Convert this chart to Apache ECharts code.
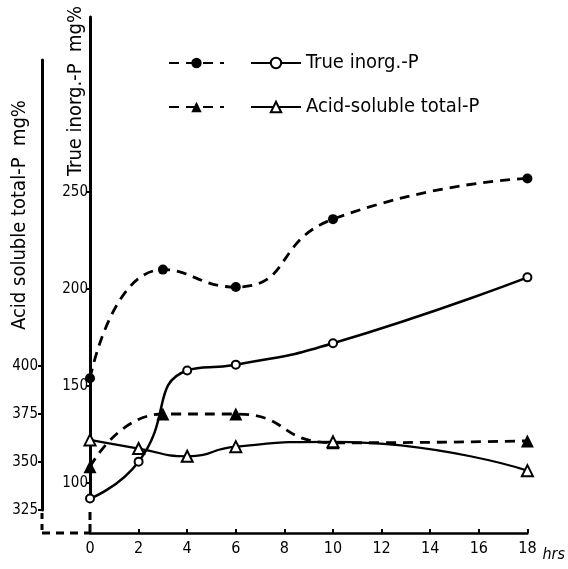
<!DOCTYPE html>
<html>
<head>
<meta charset="utf-8">
<script src="https://cdn.jsdelivr.net/npm/echarts@6/dist/echarts.min.js"></script>
<style>html,body{margin:0;padding:0;background:#fff;}#c{width:568px;height:569px;}</style>
</head>
<body>
<div id="c"></div>
<script>
// ---- data ----
const xTicks = [0, 2, 4, 6, 8, 10, 12, 14, 16, 18];
const inorgTicks = [100, 150, 200, 250];
const acidTicks = [325, 350, 375, 400];

const inorgDashedX = [0, 3, 6, 10, 18];
const inorgDashedY = [154, 210, 201, 236, 257];
const inorgSolidX = [0, 2, 4, 6, 10, 18];
const inorgSolidY = [92, 111, 158, 161, 172, 206];

const acidDashedX = [0, 3, 6, 10, 18];
const acidDashedY = [347.5, 375, 375, 360, 361];
const acidSolidX = [0, 2, 4, 6, 10, 18];
const acidSolidY = [361.5, 357, 353, 358, 360.5, 345.5];

const seriesNames = ['True inorg.-P', 'Acid-soluble total-P'];

// ---- layout / scales ----
const F = '"Liberation Sans Narrow","DejaVu Sans Condensed","DejaVu Sans",sans-serif';
const H = 569;
const mainTop = 17, mainBottomPx = 533;
const inorgPx = 1.94, acidPx = 1.92;           // px per unit
const inorgRef = {v: 100, y: 483};             // value at pixel row
const acidRef = {v: 325, y: 510};
const valAt = (ref, px, y) => ref.v + (ref.y - y) / px;

const inorgMin = valAt(inorgRef, inorgPx, mainBottomPx);
const inorgMax = valAt(inorgRef, inorgPx, mainTop);
const acidMin = valAt(acidRef, acidPx, mainBottomPx);
const acidMax = valAt(acidRef, acidPx, mainTop);

const inorgAxisTop = 17, inorgAxisBottom = 500;
const acidAxisTop = 60, acidAxisBottom = 510;

const zip = (xs, ys) => xs.map((x, i) => [x, ys[i]]);
const black = '#000';
const SMOOTH = 0.55;

const chart = echarts.init(document.getElementById('c'));

const visAxisCommon = {
  type: 'value',
  splitLine: {show: false},
  axisLine: {show: true, lineStyle: {color: black, width: 3}},
  axisTick: {show: true, inside: false, length: 4, lineStyle: {color: black, width: 2}},
  axisLabel: {color: black, fontSize: 15, fontFamily: F, margin: 3}
};

const option = {
  animation: false,
  backgroundColor: '#fff',
  grid: [
    {left: 90, right: 38, top: mainTop, bottom: H - mainBottomPx},
    {left: 42, width: 1, top: acidAxisTop, bottom: H - acidAxisBottom},
    {left: 90, width: 1, top: inorgAxisTop, bottom: H - inorgAxisBottom}
  ],
  legend: [
    {
      left: 163, top: 47, orient: 'vertical', itemWidth: 55, itemHeight: 13, itemGap: 22,
      data: ['True inorg.-P ', 'Acid-soluble total-P '],
      formatter: () => ' ',
      textStyle: {fontSize: 20, lineHeight: 22, color: black, fontFamily: F},
      selectedMode: false
    },
    {
      left: 245, top: 47, orient: 'vertical', itemWidth: 50, itemHeight: 13, itemGap: 22,
      data: seriesNames,
      textStyle: {fontSize: 20, lineHeight: 22, color: black, fontFamily: F},
      selectedMode: false
    }
  ],
  xAxis: [
    {
      gridIndex: 0, type: 'value', min: 0, max: 18, interval: 2,
      splitLine: {show: false},
      axisLine: {lineStyle: {color: black, width: 2.5}},
      axisTick: {inside: true, length: 4, lineStyle: {color: black, width: 2}},
      axisLabel: {color: black, fontSize: 16, fontFamily: F, margin: 8},
      name: 'hrs', nameLocation: 'end', nameGap: 10,
      nameTextStyle: {color: black, fontSize: 16, fontStyle: 'italic', fontFamily: F,
                      verticalAlign: 'top', padding: [14, 0, 0, 0]}
    },
    {gridIndex: 1, type: 'value', min: 0, max: 1, show: false},
    {gridIndex: 2, type: 'value', min: 0, max: 1, show: false}
  ],
  yAxis: [
    {gridIndex: 0, type: 'value', min: inorgMin, max: inorgMax, show: false},
    {gridIndex: 0, type: 'value', min: acidMin, max: acidMax, show: false},
    Object.assign({}, visAxisCommon, {
      gridIndex: 1,
      min: acidRef.v,
      max: valAt(acidRef, acidPx, acidAxisTop),
      axisTick: Object.assign({}, visAxisCommon.axisTick, {customValues: acidTicks}),
      axisLabel: Object.assign({}, visAxisCommon.axisLabel, {customValues: acidTicks, margin: 4, showMinLabel: true})
    }),
    Object.assign({}, visAxisCommon, {
      gridIndex: 2,
      min: valAt(inorgRef, inorgPx, inorgAxisBottom),
      max: valAt(inorgRef, inorgPx, inorgAxisTop),
      axisTick: Object.assign({}, visAxisCommon.axisTick, {customValues: inorgTicks}),
      axisLabel: Object.assign({}, visAxisCommon.axisLabel, {customValues: inorgTicks, margin: 2})
    })
  ],
  series: [
    {
      name: 'True inorg.-P ', type: 'line', xAxisIndex: 0, yAxisIndex: 0,
      data: zip(inorgDashedX, inorgDashedY), smooth: SMOOTH,
      symbol: 'circle', symbolSize: 10,
      itemStyle: {color: black},
      lineStyle: {color: black, width: 2.8, type: [10, 7]}
    },
    {
      name: 'True inorg.-P', type: 'line', xAxisIndex: 0, yAxisIndex: 0,
      data: zip(inorgSolidX, inorgSolidY), smooth: SMOOTH,
      symbol: 'emptyCircle', symbolSize: 8,
      itemStyle: {color: black, borderWidth: 2.5},
      lineStyle: {color: black, width: 2.5}
    },
    {
      name: 'Acid-soluble total-P ', type: 'line', xAxisIndex: 0, yAxisIndex: 1,
      data: zip(acidDashedX, acidDashedY), smooth: SMOOTH,
      symbol: 'triangle', symbolSize: 13,
      itemStyle: {color: black},
      lineStyle: {color: black, width: 2.8, type: [10, 7]}
    },
    {
      name: 'Acid-soluble total-P', type: 'line', xAxisIndex: 0, yAxisIndex: 1,
      data: zip(acidSolidX, acidSolidY), smooth: SMOOTH,
      symbol: 'emptyTriangle', symbolSize: 11,
      itemStyle: {color: black, borderWidth: 2.2},
      lineStyle: {color: black, width: 2.2}
    }
  ]
};
chart.setOption(option);

// axis break decorations, derived from the axes
const x0 = chart.convertToPixel({xAxisIndex: 0}, 0);
const yBottom = chart.convertToPixel({yAxisIndex: 0}, inorgMin);
const xAcid = chart.convertToPixel({xAxisIndex: 1}, 0);
const yAcidLow = chart.convertToPixel({yAxisIndex: 2}, acidRef.v);
const yInorgLow = chart.convertToPixel({yAxisIndex: 3}, valAt(inorgRef, inorgPx, inorgAxisBottom));
const dash = {stroke: black, lineWidth: 3, lineDash: [8, 6]};

chart.setOption({
  graphic: [
    {type: 'line', shape: {x1: xAcid, y1: yAcidLow + 3, x2: xAcid, y2: yBottom}, style: Object.assign({}, dash, {lineDash: [6, 5]})},
    {type: 'line', shape: {x1: xAcid, y1: yBottom, x2: x0, y2: yBottom}, style: dash},
    {type: 'line', shape: {x1: x0, y1: yInorgLow + 12, x2: x0, y2: yBottom}, style: Object.assign({}, dash, {lineDash: [8, 4]})},
    {type: 'text', x: 20, y: 215, rotation: Math.PI / 2,
     style: {text: 'Acid soluble total-P  mg%', fill: black, font: '20px ' + F, align: 'center', verticalAlign: 'middle'}},
    {type: 'text', x: 76, y: 91, rotation: Math.PI / 2,
     style: {text: 'True inorg.-P  mg%', fill: black, font: '20px ' + F, align: 'center', verticalAlign: 'middle'}}
  ]
});
</script>
</body>
</html>
